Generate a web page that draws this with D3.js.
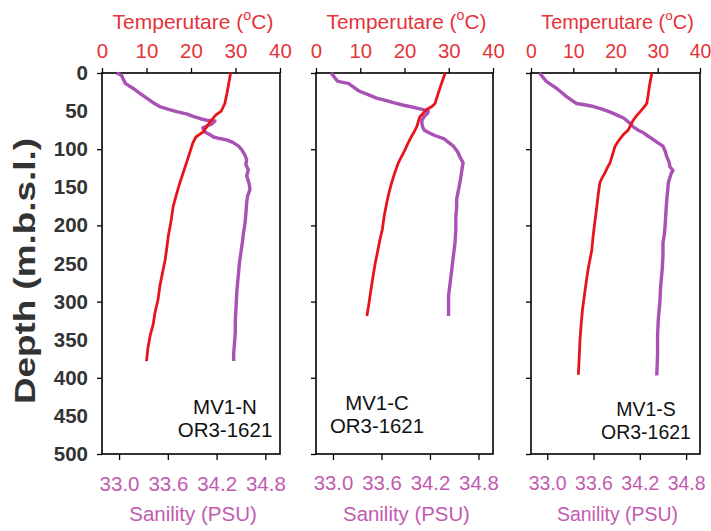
<!DOCTYPE html>
<html><head><meta charset="utf-8">
<script src="https://cdn.jsdelivr.net/npm/d3@7"></script>
<style>
body{margin:0;background:#fff}
svg{display:block}
text{font-family:"Liberation Sans",Arial,Helvetica,sans-serif}
</style>
</head><body>
<svg id="chart" width="711" height="531"></svg>
<script>
// ---------------- data ----------------
const stations = ["MV1-N", "MV1-C", "MV1-S"];
const cruise = "OR3-1621";
const depthTicks = [0, 50, 100, 150, 200, 250, 300, 350, 400, 450, 500];
const depthMajor = [0, 100, 200, 300, 400, 500];
const tempTicks = [0, 10, 20, 30, 40];
const salTicks = [33.0, 33.6, 34.2, 34.8];
const tempDomain = [0, 40];
const salDomain = [32.79, 34.98];
const depthDomain = [0, 500];
const tempTitle = "Temperutare (";
const salTitle = "Sanility (PSU)";
const depthTitle = "Depth (m.b.s.l.)";

// MV1-N
const tDepthN = [0, 13, 26, 40, 50, 55, 60, 64, 70, 77, 84, 92, 103, 114, 130, 144, 160, 175, 195, 214, 232, 245, 262, 280, 297, 315, 330, 345, 362, 378];
const tempN   = [28.9, 28.5, 28.1, 27.6, 26.8, 25.6, 24.9, 24.3, 23.6, 22.8, 21.1, 20.4, 19.8, 19.2, 18.3, 17.5, 16.7, 16.0, 15.5, 14.9, 14.5, 14.2, 13.6, 13.0, 12.6, 11.9, 11.5, 10.8, 10.3, 10.0];
const sDepthN = [0, 3, 8, 14, 20, 27, 33, 39, 44, 48, 51, 54, 57, 60, 62, 63, 67, 72, 77, 81, 84, 86, 88, 91, 96, 101, 108, 114, 120, 127, 135, 145, 153, 162, 170, 185, 197, 210, 220, 235, 250, 262, 285, 306, 325, 341, 355, 368, 378];
const salN    = [32.97, 33.03, 33.05, 33.08, 33.17, 33.26, 33.34, 33.42, 33.50, 33.62, 33.72, 33.84, 33.91, 34.00, 34.08, 34.18, 34.14, 34.03, 34.05, 34.12, 34.16, 34.24, 34.33, 34.40, 34.47, 34.51, 34.55, 34.57, 34.56, 34.59, 34.57, 34.60, 34.61, 34.58, 34.57, 34.56, 34.55, 34.53, 34.52, 34.50, 34.48, 34.47, 34.45, 34.44, 34.43, 34.43, 34.42, 34.41, 34.41];

// MV1-C
const tDepthC = [0, 13, 27, 40, 44, 48, 53, 57, 64, 70, 77, 83, 92, 101, 110, 118, 131, 144, 157, 170, 188, 205, 220, 235, 249, 270, 293, 305, 319];
const tempC   = [29.2, 28.4, 27.6, 26.9, 26.2, 25.0, 24.2, 23.5, 23.1, 22.8, 22.2, 21.6, 20.8, 20.1, 19.3, 18.6, 17.8, 17.1, 16.5, 16.0, 15.4, 15.0, 14.4, 13.9, 13.4, 12.8, 12.2, 11.9, 11.5];
const sDepthC = [0, 6, 11, 14, 16, 19, 24, 29, 33, 36, 39, 42, 44, 47, 50, 53, 57, 62, 66, 71, 75, 79, 82, 86, 91, 96, 103, 110, 118, 124, 131, 138, 144, 155, 166, 177, 188, 205, 223, 240, 258, 275, 293, 305, 319];
const salC    = [32.98, 33.02, 33.06, 33.20, 33.22, 33.26, 33.33, 33.45, 33.54, 33.65, 33.75, 33.86, 33.95, 34.08, 34.18, 34.17, 34.13, 34.10, 34.10, 34.11, 34.13, 34.20, 34.26, 34.37, 34.43, 34.49, 34.54, 34.57, 34.61, 34.60, 34.59, 34.58, 34.57, 34.55, 34.53, 34.53, 34.52, 34.52, 34.51, 34.49, 34.47, 34.45, 34.43, 34.43, 34.43];

// MV1-S
const tDepthS = [0, 18, 30, 40, 45, 51, 56, 62, 68, 75, 80, 86, 91, 96, 107, 118, 125, 131, 138, 144, 160, 179, 196, 214, 232, 258, 285, 310, 328, 350, 375, 396];
const tempS   = [28.6, 28.0, 27.7, 27.4, 26.7, 25.8, 25.0, 24.2, 23.6, 23.0, 22.0, 21.1, 20.5, 19.9, 19.3, 18.7, 18.0, 17.5, 16.8, 16.3, 15.9, 15.5, 15.1, 14.7, 14.4, 13.5, 12.8, 12.2, 11.9, 11.6, 11.4, 11.2];
const sDepthS = [0, 5, 11, 16, 20, 25, 31, 36, 40, 42, 44, 47, 51, 55, 59, 65, 71, 75, 78, 83, 87, 92, 96, 103, 110, 117, 123, 128, 131, 137, 144, 155, 166, 180, 197, 210, 223, 240, 258, 280, 300, 323, 345, 370, 397];
const salS    = [32.90, 32.94, 32.99, 33.06, 33.12, 33.18, 33.25, 33.32, 33.38, 33.50, 33.60, 33.70, 33.81, 33.90, 33.99, 34.06, 34.12, 34.18, 34.24, 34.31, 34.37, 34.44, 34.50, 34.53, 34.55, 34.58, 34.59, 34.63, 34.61, 34.59, 34.57, 34.56, 34.55, 34.54, 34.53, 34.52, 34.50, 34.50, 34.49, 34.47, 34.46, 34.44, 34.43, 34.43, 34.42];

const tempDepths = [tDepthN, tDepthC, tDepthS];
const temps = [tempN, tempC, tempS];
const salDepths = [sDepthN, sDepthC, sDepthS];
const sals = [salN, salC, salS];

// ---------------- layout / style ----------------
const panelX0 = [102, 316, 531];
const panelX1 = [280, 493, 700];
const labelCX = [225, 377, 646];
const labelY1 = [414, 410, 416];
const labelY2 = [437, 433, 439];
const yTop = 73, yBot = 454;
const RED = "#e8141c", PURPLE = "#a853b4", REDTXT = "#e5333a", PINKTXT = "#c25bb0";

const svg = d3.select("#chart");
const y = d3.scaleLinear().domain(depthDomain).range([yTop, yBot]);

stations.forEach((name, i) => {
  const x0 = panelX0[i], x1 = panelX1[i];
  const w = x1 - x0;
  const k = w / 178;
  const fs = 20.5 * k;
  const xT = d3.scaleLinear().domain(tempDomain).range([x0, x1]);
  const xS = d3.scaleLinear().domain(salDomain).range([x0, x1]);
  const cx = (x0 + x1) / 2 + 2;

  // top temperature axis
  const gTop = svg.append("g").attr("transform", `translate(0,${yTop})`)
    .call(d3.axisTop(xT).tickValues(tempTicks).tickFormat(d3.format("d"))
      .tickSize(5).tickSizeOuter(0).tickPadding(10));
  gTop.select(".domain").remove();
  gTop.selectAll("line").attr("stroke", "#000").attr("stroke-width", 1.3);
  gTop.selectAll("text").attr("fill", REDTXT).attr("font-size", fs);

  // bottom salinity axis
  const gBot = svg.append("g").attr("transform", `translate(0,${yBot})`)
    .call(d3.axisBottom(xS).tickValues(salTicks).tickFormat(d3.format(".1f"))
      .tickSize(6).tickSizeOuter(0).tickPadding(16));
  gBot.select(".domain").remove();
  gBot.selectAll("line").attr("stroke", "#000").attr("stroke-width", 1.3);
  gBot.selectAll("text").attr("fill", PINKTXT).attr("font-size", fs);

  // left depth ticks (labels only on first panel)
  const gL = svg.append("g").attr("transform", `translate(${x0},0)`)
    .call(d3.axisLeft(y).tickValues(i === 0 ? depthTicks : depthMajor)
      .tickFormat(i === 0 ? d3.format("d") : () => "")
      .tickSize(5).tickSizeOuter(0).tickPadding(9));
  gL.select(".domain").remove();
  gL.selectAll(".tick").filter(d => d % 100 !== 0).select("line").remove();
  gL.selectAll("line").attr("stroke", "#000").attr("stroke-width", 1.3);
  gL.selectAll("text").attr("fill", "#333").attr("font-size", 20.5).attr("font-weight", "bold");

  // frame
  svg.append("rect").attr("x", x0).attr("y", yTop).attr("width", w).attr("height", yBot - yTop)
    .attr("fill", "none").attr("stroke", "#000").attr("stroke-width", 1.6);

  // lines
  const lineT = d3.line().x(d => xT(d[1])).y(d => y(d[0]));
  const lineS = d3.line().x(d => xS(d[1])).y(d => y(d[0]));
  const dataT = tempDepths[i].map((d, j) => [d, temps[i][j]]);
  const dataS = salDepths[i].map((d, j) => [d, sals[i][j]]);
  svg.append("path").datum(dataS).attr("d", lineS).attr("fill", "none")
    .attr("stroke", PURPLE).attr("stroke-width", 3.4).attr("stroke-linejoin", "round");
  svg.append("path").datum(dataT).attr("d", lineT).attr("fill", "none")
    .attr("stroke", RED).attr("stroke-width", 2.8).attr("stroke-linejoin", "round");

  // titles
  const tt = svg.append("text").attr("x", cx).attr("y", 29).attr("text-anchor", "middle")
    .attr("fill", REDTXT).attr("font-size", 21 * k);
  tt.append("tspan").text(tempTitle);
  tt.append("tspan").attr("dy", -9).attr("font-size", 21 * k * 0.68).text("o");
  tt.append("tspan").attr("dy", 9).text("C)");

  svg.append("text").attr("x", cx).attr("y", 521).attr("text-anchor", "middle")
    .attr("fill", PINKTXT).attr("font-size", fs).text(salTitle);

  // station labels
  svg.append("text").attr("x", labelCX[i]).attr("y", labelY1[i]).attr("text-anchor", "middle")
    .attr("fill", "#111").attr("font-size", fs).text(name);
  svg.append("text").attr("x", labelCX[i]).attr("y", labelY2[i]).attr("text-anchor", "middle")
    .attr("fill", "#111").attr("font-size", fs).text(cruise);
});

// depth title
svg.append("text").attr("transform", "translate(35,271) rotate(-90)")
  .attr("text-anchor", "middle").attr("font-size", 30).attr("font-weight", "bold")
  .attr("fill", "#333").attr("textLength", 266).attr("lengthAdjust", "spacingAndGlyphs")
  .text(depthTitle);
</script>
</body></html>
